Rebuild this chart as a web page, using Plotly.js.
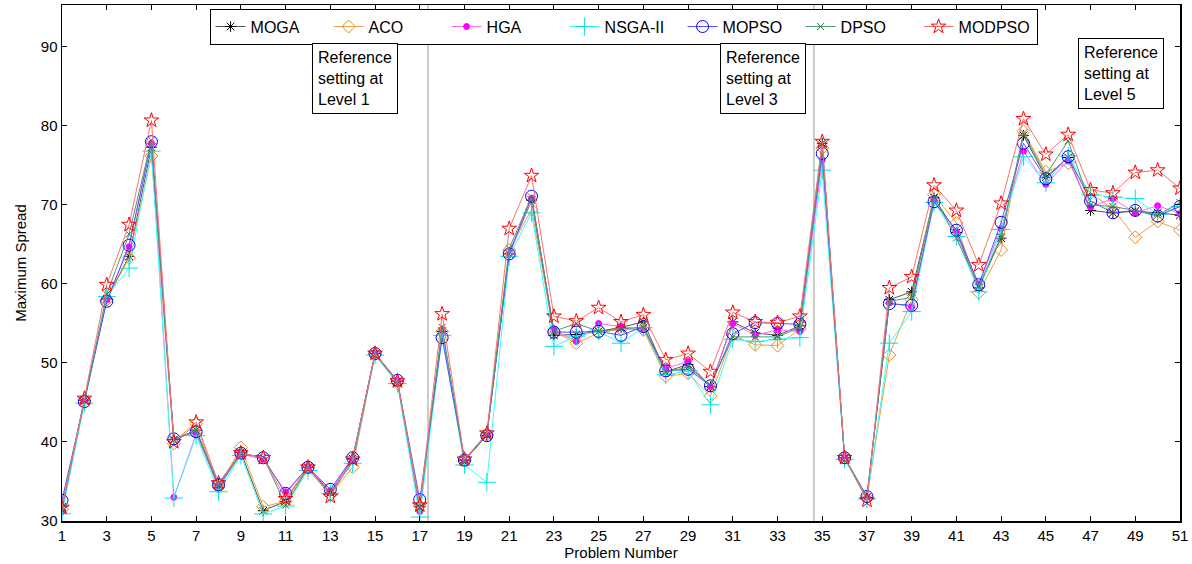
<!DOCTYPE html>
<html>
<head>
<meta charset="utf-8">
<script src="https://cdn.plot.ly/plotly-3.0.1.min.js"></script>
<style>html,body{margin:0;padding:0;background:#fff}#chart{width:1192px;height:564px}</style>
</head>
<body>
<div id="chart"></div>
<script>
const problems = [1,2,3,4,5,6,7,8,9,10,11,12,13,14,15,16,17,18,19,20,21,22,23,24,25,26,27,28,29,30,31,32,33,34,35,36,37,38,39,40,41,42,43,44,45,46,47,48,49,50,51];

const MOGA   = [31.8,45.3,58.1,63.5,77.3,40.3,41.5,34.7,38.7,31.3,32.5,36.8,33.6,37.9,51.2,47.7,31.8,54.0,37.7,40.8,63.8,70.6,53.5,53.6,54.0,54.5,55.2,48.9,49.8,47.0,55.2,53.8,53.5,54.7,77.8,38.0,33.0,58.0,59.0,70.9,66.5,59.5,65.8,78.8,73.5,76.0,69.3,69.0,69.2,69.0,68.7];
const ACO    = [31.5,45.2,58.0,63.3,76.2,39.8,42.3,34.3,39.3,31.8,32.5,36.7,33.3,36.8,51.1,47.5,31.9,54.0,37.7,40.9,64.3,69.4,54.0,52.5,53.8,54.3,54.2,48.3,48.7,45.8,53.5,52.3,52.2,54.3,77.2,38.0,33.0,51.0,58.0,71.3,67.7,58.9,64.3,79.3,74.2,75.3,71.5,69.5,65.9,67.9,66.8];
const HGA    = [31.2,45.2,58.0,64.7,77.8,33.0,41.0,34.4,38.5,37.8,33.7,36.8,33.8,37.7,51.2,47.7,31.2,54.2,37.6,40.9,63.7,70.8,54.2,52.7,55.0,54.6,54.3,49.3,50.2,47.0,55.0,53.5,54.2,54.0,75.7,38.0,33.0,57.6,57.1,70.5,66.6,60.0,67.0,76.8,72.6,75.6,69.7,70.8,69.0,69.9,68.9];
const NSGA2  = [30.9,44.9,58.4,62.0,76.8,32.9,40.8,33.7,38.3,30.9,31.9,36.4,33.5,37.3,51.0,47.4,30.5,53.5,37.1,34.9,63.5,69.0,52.1,53.4,54.0,52.5,54.5,48.5,49.0,44.7,53.0,52.7,53.0,53.2,74.4,37.8,32.8,52.5,56.5,70.3,66.0,59.0,66.9,76.1,72.8,76.2,71.3,71.0,70.8,68.8,69.8];
const MOPSO  = [32.6,45.1,57.8,64.9,78.0,40.4,41.3,34.6,38.6,38.0,33.5,36.8,34.0,38.0,51.2,47.8,32.7,53.2,37.7,40.8,63.8,71.1,53.9,53.9,54.0,53.5,54.6,49.0,49.2,47.1,53.7,55.1,55.0,54.9,76.5,38.0,33.1,57.5,57.3,70.4,66.8,59.9,67.8,77.8,73.3,76.1,70.5,69.0,69.3,68.6,69.8];
const DPSO   = [31.6,45.3,58.7,66.3,78.2,40.2,41.5,34.2,38.5,38.1,32.0,36.7,33.5,37.5,51.1,47.6,31.7,54.5,37.7,40.9,64.5,71.0,54.0,55.0,54.0,54.3,54.5,48.8,49.5,47.2,53.3,53.3,53.3,54.5,77.5,38.0,33.0,57.8,58.3,71.0,65.8,59.7,66.0,79.1,73.8,78.1,70.0,69.8,69.3,68.7,70.3];
const MODPSO = [31.7,45.5,59.9,67.5,80.7,40.0,42.5,34.8,38.6,38.0,32.8,36.8,33.1,37.8,51.2,47.7,32.0,56.2,37.8,41.1,67.0,73.7,55.9,55.3,57.0,55.2,56.1,50.4,51.2,48.9,56.4,55.2,55.1,55.9,78.0,38.0,32.6,59.5,60.9,72.5,69.3,62.4,70.2,80.9,76.4,78.9,71.9,71.5,74.1,74.4,72.1];

const seriesNames = ['MOGA','ACO','HGA','NSGA-II','MOPSO','DPSO','MODPSO'];
const seriesData  = [MOGA, ACO, HGA, NSGA2, MOPSO, DPSO, MODPSO];
const lineColors  = ['#555555','#F0A040','#FF66FF','#33FFFF','#5555FF','#4E9A6E','#FF7070'];
const markColors  = ['#000000','#E88A10','#FF00FF','#00E5E5','#0000FF','#2E7D50','#FF0000'];
const markSymbols = ['asterisk-open','diamond-open','circle','cross-thin-open','circle-open','x-thin-open','star-open'];
const markSizes   = [9,10,6,13,12,7,11];

const tickVals = [1,3,5,7,9,11,13,15,17,19,21,23,25,27,29,31,33,35,37,39,41,43,45,47,49,51];
const yTickVals = [30,40,50,60,70,80,90];
const separators = [17.37, 34.63];
const notes = [
  {x: 14.1, y: 90.5, text: 'Reference<br>setting at<br>Level 1'},
  {x: 32.35, y: 90.5, text: 'Reference<br>setting at<br>Level 3'},
  {x: 48.36, y: 91.1, text: 'Reference<br>setting at<br>Level 5'}
];

const traces = seriesNames.map((n, i) => ({
  x: problems, y: seriesData[i], name: n, type: 'scatter', mode: 'lines+markers',
  line: {color: lineColors[i], width: 1},
  marker: {symbol: markSymbols[i], size: markSizes[i], color: markColors[i],
           line: {color: markColors[i], width: 1}}
}));

const font = {family: 'Liberation Sans, Arial, sans-serif', color: '#000'};

const layout = {
  width: 1192, height: 564,
  margin: {l: 62, r: 12, t: 5, b: 43},
  paper_bgcolor: '#fff', plot_bgcolor: '#fff',
  font: Object.assign({size: 15}, font),
  showlegend: true,
  legend: {
    orientation: 'h', x: 0.132, y: 0.993, xanchor: 'left', yanchor: 'top',
    bgcolor: '#fff', bordercolor: '#000', borderwidth: 1,
    font: Object.assign({size: 16}, font), itemwidth: 30, tracegroupgap: 0,
    entrywidth: 73, entrywidthmode: 'pixels'
  },
  xaxis: {
    range: [1, 51], tickmode: 'array', tickvals: tickVals, ticktext: tickVals.map(String),
    ticks: 'inside', ticklen: 5, tickcolor: '#000', showline: true, linecolor: '#000', linewidth: 1.5,
    mirror: 'ticks', showgrid: false, zeroline: false,
    tickfont: Object.assign({size: 15}, font),
    title: {text: 'Problem Number', font: Object.assign({size: 15}, font), standoff: 2}
  },
  yaxis: {
    range: [30, 95.3], tickmode: 'array', tickvals: yTickVals, ticktext: yTickVals.map(String),
    ticks: 'inside', ticklen: 5, tickcolor: '#000', showline: true, linecolor: '#000', linewidth: 1.5,
    mirror: 'ticks', showgrid: false, zeroline: false,
    tickfont: Object.assign({size: 15}, font),
    title: {text: 'Maximum Spread', font: Object.assign({size: 15}, font), standoff: 10}
  },
  shapes: separators.map(s => ({
    type: 'line', xref: 'x', yref: 'paper', x0: s, x1: s, y0: 0, y1: 1,
    line: {color: '#999', width: 1}, layer: 'below'
  })),
  annotations: notes.map(a => ({
    x: a.x, y: a.y, xref: 'x', yref: 'y', text: a.text, showarrow: false,
    xanchor: 'center', yanchor: 'top', align: 'left',
    bordercolor: '#000', borderwidth: 1, borderpad: 5, bgcolor: '#fff',
    font: Object.assign({size: 16}, font)
  }))
};

Plotly.newPlot('chart', traces, layout, {displayModeBar: false, staticPlot: true});
</script>
</body>
</html>
